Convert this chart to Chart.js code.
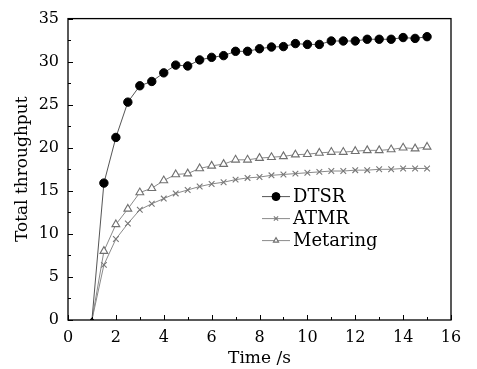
<!DOCTYPE html>
<html>
<head>
<meta charset="utf-8">
<script src="https://cdn.jsdelivr.net/npm/chart.js@4/dist/chart.umd.min.js"></script>
<style>
    html, body { margin: 0; padding: 0; background: #fff; }
    #wrap { width: 477px; height: 369px; }
</style>
</head>
<body>
<div id="wrap"><canvas id="chart" width="477" height="369"></canvas></div>
<script>
const times = [1, 1.5, 2, 2.5, 3, 3.5, 4, 4.5, 5, 5.5, 6, 6.5, 7, 7.5, 8, 8.5, 9, 9.5, 10, 10.5, 11, 11.5, 12, 12.5, 13, 13.5, 14, 14.5, 15];
const dtsr = [0, 15.9, 21.2, 25.3, 27.2, 27.7, 28.7, 29.6, 29.5, 30.2, 30.5, 30.7, 31.2, 31.2, 31.5, 31.7, 31.75, 32.1, 32.0, 32.0, 32.4, 32.4, 32.4, 32.6, 32.6, 32.6, 32.8, 32.7, 32.9];
const atmr = [0, 6.4, 9.4, 11.2, 12.8, 13.5, 14.1, 14.7, 15.1, 15.5, 15.8, 16.0, 16.3, 16.5, 16.6, 16.8, 16.9, 17.0, 17.1, 17.2, 17.3, 17.3, 17.4, 17.4, 17.5, 17.5, 17.6, 17.6, 17.6];
const metaring = [0, 8.0, 11.1, 12.9, 14.8, 15.3, 16.2, 16.9, 17.0, 17.6, 17.9, 18.1, 18.6, 18.6, 18.8, 18.9, 19.0, 19.2, 19.25, 19.4, 19.5, 19.5, 19.6, 19.7, 19.7, 19.8, 20.0, 19.9, 20.1];
const seriesNames = ['DTSR', 'ATMR', 'Metaring'];
const xTitle = 'Time /s';
const yTitle = 'Total throughput';

const serif = "'DejaVu Serif', 'Liberation Serif', serif";

function pts(ys) {
    return times.map((t, i) => ({ x: t, y: ys[i] }));
}

// marker sits on the axis at the start point, mostly hidden there
function markerSize(r) {
    return (c) => (c.raw && c.raw.y === 0 ? 1.5 : r);
}

// box round the plot + inward ticks
const frameTicks = {
    id: 'frameTicks',
    afterDraw(chart) {
        const ctx = chart.ctx;
        const a = chart.chartArea;
        const xs = chart.scales.x, ys = chart.scales.y;
        ctx.save();
        ctx.strokeStyle = '#000';
        ctx.lineWidth = 1.3;
        ctx.strokeRect(a.left, a.top, a.right - a.left, a.bottom - a.top);
        ctx.lineWidth = 1;
        ctx.beginPath();
        for (let v = 0; v <= 16; v += 1) {
            const px = Math.round(xs.getPixelForValue(v)) + 0.5;
            const len = v % 2 === 0 ? 5 : 3;
            ctx.moveTo(px, a.bottom);
            ctx.lineTo(px, a.bottom - len);
        }
        for (let v = 0; v <= 35; v += 2.5) {
            const py = Math.round(ys.getPixelForValue(v)) + 0.5;
            const len = v % 5 === 0 ? 5 : 3;
            ctx.moveTo(a.left, py);
            ctx.lineTo(a.left + len, py);
        }
        ctx.stroke();
        ctx.restore();
    }
};

// legend: short line with marker, then label
const lineLegend = {
    id: 'lineLegend',
    afterDatasetsDraw(chart) {
        const c = chart.ctx;
        const a = chart.chartArea;
        c.save();
        chart.data.datasets.forEach((ds, i) => {
            const y = a.top + 178 + i * 22;
            const x0 = a.left + 194;
            c.strokeStyle = ds.borderColor;
            c.lineWidth = 1;
            c.beginPath();
            c.moveTo(x0, y);
            c.lineTo(x0 + 28, y);
            c.stroke();
            c.fillStyle = ds.pointBackgroundColor;
            c.strokeStyle = ds.pointBorderColor;
            c.lineWidth = ds.pointBorderWidth;
            Chart.helpers.drawPoint(c, {
                pointStyle: ds.pointStyle,
                radius: ds.legendRadius,
                rotation: 0,
                borderWidth: ds.pointBorderWidth
            }, x0 + 14, y);
            c.fillStyle = '#000';
            c.font = '18px ' + serif;
            c.textAlign = 'left';
            c.textBaseline = 'middle';
            c.fillText(ds.label, x0 + 31, y + 1);
        });
        c.restore();
    }
};

const ctx = document.getElementById('chart').getContext('2d');

new Chart(ctx, {
    type: 'line',
    data: {
        datasets: [
            {
                label: seriesNames[0],
                data: pts(dtsr),
                borderColor: '#555',
                borderWidth: 1,
                pointStyle: 'circle',
                pointRadius: markerSize(4.2),
                legendRadius: 4,
                pointBackgroundColor: '#000',
                pointBorderColor: '#000',
                pointBorderWidth: 1,
                order: 0
            },
            {
                label: seriesNames[1],
                data: pts(atmr),
                borderColor: '#8a8a8a',
                borderWidth: 1,
                pointStyle: 'crossRot',
                pointRadius: markerSize(4),
                legendRadius: 3,
                pointBackgroundColor: '#8a8a8a',
                pointBorderColor: '#777',
                pointBorderWidth: 1.1,
                order: 2
            },
            {
                label: seriesNames[2],
                data: pts(metaring),
                borderColor: '#8a8a8a',
                borderWidth: 1,
                pointStyle: 'triangle',
                pointRadius: markerSize(4.5),
                legendRadius: 3,
                pointBackgroundColor: '#fff',
                pointBorderColor: '#707070',
                pointBorderWidth: 1.1,
                order: 1
            }
        ]
    },
    options: {
        responsive: false,
        animation: false,
        layout: { padding: { top: 12, right: 26, left: 0, bottom: 0 } },
        plugins: {
            legend: { display: false },
            tooltip: { enabled: false }
        },
        scales: {
            x: {
                type: 'linear',
                min: 0,
                max: 16,
                grid: { display: false, drawTicks: false },
                border: { display: false },
                ticks: {
                    stepSize: 2,
                    padding: 8,
                    color: '#000',
                    font: { family: serif, size: 16 }
                },
                title: {
                    display: true,
                    text: xTitle,
                    color: '#000',
                    font: { family: serif, size: 17 },
                    padding: { top: -2, bottom: 0 }
                },
                afterFit(scale) { scale.height = 49; }
            },
            y: {
                min: 0,
                max: 35,
                grid: { display: false, drawTicks: false },
                border: { display: false },
                ticks: {
                    stepSize: 5,
                    padding: 9,
                    color: '#000',
                    font: { family: serif, size: 16 }
                },
                title: {
                    display: true,
                    text: yTitle,
                    color: '#000',
                    font: { family: serif, size: 17 },
                    padding: { top: 12, bottom: 4 }
                },
                afterFit(scale) { scale.width = 68; }
            }
        }
    },
    plugins: [frameTicks, lineLegend]
});
</script>
</body>
</html>
